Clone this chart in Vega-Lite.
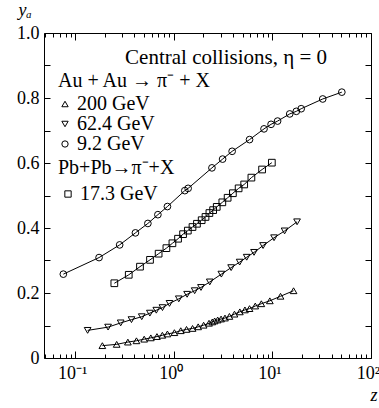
{
  "$schema": "https://vega.github.io/schema/vega-lite/v6.json",
  "width": 327,
  "height": 325,
  "autosize": {"type": "none"},
  "padding": {"left": 44, "top": 33, "right": 8, "bottom": 50},
  "background": "white",
  "title": {"text": "Central collisions, η = 0", "anchor": "end", "frame": "group", "dx": -44, "offset": -56, "dy": 28, "baseline": "alphabetic", "fontSize": 21, "font": "Liberation Serif", "fontWeight": "normal", "color": "black"},
  "data": {"values": [
    {"group": "Au", "series": "9.2 GeV", "z": 0.076, "y": 0.258},
    {"group": "Au", "series": "9.2 GeV", "z": 0.175, "y": 0.309},
    {"group": "Au", "series": "9.2 GeV", "z": 0.283, "y": 0.348},
    {"group": "Au", "series": "9.2 GeV", "z": 0.409, "y": 0.385},
    {"group": "Au", "series": "9.2 GeV", "z": 0.547, "y": 0.414},
    {"group": "Au", "series": "9.2 GeV", "z": 0.691, "y": 0.441},
    {"group": "Au", "series": "9.2 GeV", "z": 0.863, "y": 0.466},
    {"group": "Au", "series": "9.2 GeV", "z": 1.295, "y": 0.515},
    {"group": "Au", "series": "9.2 GeV", "z": 1.40, "y": 0.522},
    {"group": "Au", "series": "9.2 GeV", "z": 2.44, "y": 0.585},
    {"group": "Au", "series": "9.2 GeV", "z": 3.13, "y": 0.612},
    {"group": "Au", "series": "9.2 GeV", "z": 3.91, "y": 0.636},
    {"group": "Au", "series": "9.2 GeV", "z": 5.87, "y": 0.672},
    {"group": "Au", "series": "9.2 GeV", "z": 8.23, "y": 0.705},
    {"group": "Au", "series": "9.2 GeV", "z": 9.70, "y": 0.719},
    {"group": "Au", "series": "9.2 GeV", "z": 11.3, "y": 0.729},
    {"group": "Au", "series": "9.2 GeV", "z": 15.0, "y": 0.751},
    {"group": "Au", "series": "9.2 GeV", "z": 17.5, "y": 0.759},
    {"group": "Au", "series": "9.2 GeV", "z": 19.6, "y": 0.767},
    {"group": "Au", "series": "9.2 GeV", "z": 32.4, "y": 0.797},
    {"group": "Au", "series": "9.2 GeV", "z": 50.6, "y": 0.818},
    {"group": "Pb", "series": "17.3 GeV", "z": 0.250, "y": 0.230},
    {"group": "Pb", "series": "17.3 GeV", "z": 0.350, "y": 0.256},
    {"group": "Pb", "series": "17.3 GeV", "z": 0.455, "y": 0.281},
    {"group": "Pb", "series": "17.3 GeV", "z": 0.575, "y": 0.302},
    {"group": "Pb", "series": "17.3 GeV", "z": 0.703, "y": 0.321},
    {"group": "Pb", "series": "17.3 GeV", "z": 0.843, "y": 0.338},
    {"group": "Pb", "series": "17.3 GeV", "z": 0.970, "y": 0.353},
    {"group": "Pb", "series": "17.3 GeV", "z": 1.106, "y": 0.367},
    {"group": "Pb", "series": "17.3 GeV", "z": 1.244, "y": 0.381},
    {"group": "Pb", "series": "17.3 GeV", "z": 1.39, "y": 0.392},
    {"group": "Pb", "series": "17.3 GeV", "z": 1.55, "y": 0.403},
    {"group": "Pb", "series": "17.3 GeV", "z": 1.72, "y": 0.413},
    {"group": "Pb", "series": "17.3 GeV", "z": 1.92, "y": 0.424},
    {"group": "Pb", "series": "17.3 GeV", "z": 2.10, "y": 0.434},
    {"group": "Pb", "series": "17.3 GeV", "z": 2.30, "y": 0.446},
    {"group": "Pb", "series": "17.3 GeV", "z": 2.51, "y": 0.455},
    {"group": "Pb", "series": "17.3 GeV", "z": 2.73, "y": 0.465},
    {"group": "Pb", "series": "17.3 GeV", "z": 3.11, "y": 0.479},
    {"group": "Pb", "series": "17.3 GeV", "z": 3.52, "y": 0.493},
    {"group": "Pb", "series": "17.3 GeV", "z": 3.98, "y": 0.507},
    {"group": "Pb", "series": "17.3 GeV", "z": 4.55, "y": 0.522},
    {"group": "Pb", "series": "17.3 GeV", "z": 5.18, "y": 0.534},
    {"group": "Pb", "series": "17.3 GeV", "z": 6.13, "y": 0.555},
    {"group": "Pb", "series": "17.3 GeV", "z": 7.87, "y": 0.580},
    {"group": "Pb", "series": "17.3 GeV", "z": 9.88, "y": 0.601},
    {"group": "Au", "series": "62.4 GeV", "z": 0.134, "y": 0.085},
    {"group": "Au", "series": "62.4 GeV", "z": 0.216, "y": 0.095},
    {"group": "Au", "series": "62.4 GeV", "z": 0.290, "y": 0.108},
    {"group": "Au", "series": "62.4 GeV", "z": 0.373, "y": 0.118},
    {"group": "Au", "series": "62.4 GeV", "z": 0.474, "y": 0.127},
    {"group": "Au", "series": "62.4 GeV", "z": 0.573, "y": 0.138},
    {"group": "Au", "series": "62.4 GeV", "z": 0.666, "y": 0.147},
    {"group": "Au", "series": "62.4 GeV", "z": 0.769, "y": 0.155},
    {"group": "Au", "series": "62.4 GeV", "z": 0.906, "y": 0.168},
    {"group": "Au", "series": "62.4 GeV", "z": 1.125, "y": 0.182},
    {"group": "Au", "series": "62.4 GeV", "z": 1.367, "y": 0.196},
    {"group": "Au", "series": "62.4 GeV", "z": 1.63, "y": 0.207},
    {"group": "Au", "series": "62.4 GeV", "z": 1.89, "y": 0.217},
    {"group": "Au", "series": "62.4 GeV", "z": 2.32, "y": 0.234},
    {"group": "Au", "series": "62.4 GeV", "z": 3.04, "y": 0.258},
    {"group": "Au", "series": "62.4 GeV", "z": 3.82, "y": 0.278},
    {"group": "Au", "series": "62.4 GeV", "z": 4.66, "y": 0.295},
    {"group": "Au", "series": "62.4 GeV", "z": 5.49, "y": 0.310},
    {"group": "Au", "series": "62.4 GeV", "z": 6.52, "y": 0.325},
    {"group": "Au", "series": "62.4 GeV", "z": 8.05, "y": 0.346},
    {"group": "Au", "series": "62.4 GeV", "z": 10.4, "y": 0.370},
    {"group": "Au", "series": "62.4 GeV", "z": 13.3, "y": 0.391},
    {"group": "Au", "series": "62.4 GeV", "z": 17.8, "y": 0.419},
    {"group": "Au", "series": "200 GeV", "z": 0.189, "y": 0.038},
    {"group": "Au", "series": "200 GeV", "z": 0.264, "y": 0.042},
    {"group": "Au", "series": "200 GeV", "z": 0.343, "y": 0.049},
    {"group": "Au", "series": "200 GeV", "z": 0.419, "y": 0.053},
    {"group": "Au", "series": "200 GeV", "z": 0.502, "y": 0.058},
    {"group": "Au", "series": "200 GeV", "z": 0.586, "y": 0.062},
    {"group": "Au", "series": "200 GeV", "z": 0.676, "y": 0.066},
    {"group": "Au", "series": "200 GeV", "z": 0.767, "y": 0.070},
    {"group": "Au", "series": "200 GeV", "z": 0.863, "y": 0.074},
    {"group": "Au", "series": "200 GeV", "z": 1.016, "y": 0.078},
    {"group": "Au", "series": "200 GeV", "z": 1.179, "y": 0.084},
    {"group": "Au", "series": "200 GeV", "z": 1.348, "y": 0.088},
    {"group": "Au", "series": "200 GeV", "z": 1.552, "y": 0.091},
    {"group": "Au", "series": "200 GeV", "z": 1.77, "y": 0.096},
    {"group": "Au", "series": "200 GeV", "z": 2.01, "y": 0.101},
    {"group": "Au", "series": "200 GeV", "z": 2.28, "y": 0.107},
    {"group": "Au", "series": "200 GeV", "z": 2.46, "y": 0.111},
    {"group": "Au", "series": "200 GeV", "z": 2.60, "y": 0.114},
    {"group": "Au", "series": "200 GeV", "z": 2.79, "y": 0.117},
    {"group": "Au", "series": "200 GeV", "z": 3.02, "y": 0.120},
    {"group": "Au", "series": "200 GeV", "z": 3.31, "y": 0.123},
    {"group": "Au", "series": "200 GeV", "z": 3.67, "y": 0.128},
    {"group": "Au", "series": "200 GeV", "z": 4.13, "y": 0.135},
    {"group": "Au", "series": "200 GeV", "z": 4.68, "y": 0.142},
    {"group": "Au", "series": "200 GeV", "z": 5.27, "y": 0.148},
    {"group": "Au", "series": "200 GeV", "z": 5.87, "y": 0.152},
    {"group": "Au", "series": "200 GeV", "z": 6.71, "y": 0.160},
    {"group": "Au", "series": "200 GeV", "z": 7.73, "y": 0.167},
    {"group": "Au", "series": "200 GeV", "z": 9.43, "y": 0.176},
    {"group": "Au", "series": "200 GeV", "z": 12.1, "y": 0.190},
    {"group": "Au", "series": "200 GeV", "z": 16.4, "y": 0.207}
  ]},
  "layer": [
    {
      "transform": [{"filter": "datum.group == 'Au'"}],
      "mark": {"type": "line", "color": "black", "strokeWidth": 1},
      "encoding": {
        "x": {"field": "z", "type": "quantitative", "scale": {"type": "log", "domain": [0.0484, 100], "nice": false},
          "axis": {"orient": "bottom", "values": [0.1, 1, 10, 100], "tickSize": -7, "labelPadding": 27, "labelBaseline": "alphabetic", "labelOffset": -3,
            "labelExpr": "datum.value < 0.5 ? '10⁻¹' : datum.value < 5 ? '10⁰' : datum.value < 50 ? '10¹' : '10²'",
            "title": "z", "titleX": 333, "titleY": 42, "titleAlign": "right", "titleBaseline": "alphabetic", "titleFontStyle": "italic", "titleFontSize": 18, "titleFontWeight": "normal"}},
        "y": {"field": "y", "type": "quantitative", "scale": {"domain": [0, 1], "nice": false, "zero": false},
          "axis": {"orient": "left", "values": [0, 0.1, 0.2, 0.3, 0.4, 0.5, 0.6, 0.7, 0.8, 0.9, 1.0], "tickSize": -6, "labelPadding": 11,
            "labelExpr": "datum.value < 0.05 ? '0' : (round(datum.value * 10) % 2 == 0 ? format(datum.value, '.1f') : '')",
            "title": "yₐ", "titleAngle": 0, "titleAlign": "left", "titleBaseline": "alphabetic", "titleX": -26, "titleY": -18, "titleFontStyle": "italic", "titleFontSize": 18, "titleFontWeight": "normal"}},
        "detail": {"field": "series"}
      }
    },
    {
      "transform": [{"filter": "datum.group == 'Pb'"}],
      "mark": {"type": "line", "color": "black", "strokeWidth": 1},
      "encoding": {
        "x": {"field": "z", "type": "quantitative", "scale": {"type": "log", "domain": [0.0484, 100], "nice": false},
          "axis": {"orient": "bottom", "values": [0.05, 0.06, 0.07, 0.08, 0.09, 0.2, 0.3, 0.4, 0.5, 0.6, 0.7, 0.8, 0.9, 2, 3, 4, 5, 6, 7, 8, 9, 20, 30, 40, 50, 60, 70, 80, 90], "tickSize": -4, "labels": false, "title": null}},
        "y": {"field": "y", "type": "quantitative", "scale": {"domain": [0, 1], "nice": false, "zero": false},
          "axis": {"orient": "right", "values": [0, 0.1, 0.2, 0.3, 0.4, 0.5, 0.6, 0.7, 0.8, 0.9, 1.0], "tickSize": -6, "labels": false, "title": null}},
        "detail": {"field": "series"}
      }
    },
    {
      "transform": [{"filter": "datum.group == 'Au'"}],
      "mark": {"type": "point", "color": "black", "filled": false, "strokeWidth": 1, "size": 45, "opacity": 1},
      "encoding": {
        "x": {"field": "z", "type": "quantitative", "scale": {"type": "log", "domain": [0.0484, 100], "nice": false},
          "axis": {"orient": "top", "values": [0.1, 1, 10, 100], "tickSize": -7, "labels": false, "title": null}},
        "y": {"field": "y", "type": "quantitative", "scale": {"domain": [0, 1], "nice": false, "zero": false}, "axis": null},
        "shape": {"field": "series", "type": "nominal",
          "scale": {"domain": ["200 GeV", "62.4 GeV", "9.2 GeV"], "range": ["triangle-up", "triangle-down", "circle"]},
          "legend": {"title": "Au + Au → π⁻ + X", "orient": "none", "legendX": 14, "legendY": 38, "symbolOffset": -3, "labelOffset": 2, "rowPadding": 0, "titlePadding": 3, "symbolSize": 40}}
      }
    },
    {
      "transform": [{"filter": "datum.group == 'Pb'"}],
      "mark": {"type": "point", "color": "black", "filled": false, "strokeWidth": 1, "size": 45, "opacity": 1},
      "encoding": {
        "x": {"field": "z", "type": "quantitative", "scale": {"type": "log", "domain": [0.0484, 100], "nice": false},
          "axis": {"orient": "top", "values": [0.05, 0.06, 0.07, 0.08, 0.09, 0.2, 0.3, 0.4, 0.5, 0.6, 0.7, 0.8, 0.9, 2, 3, 4, 5, 6, 7, 8, 9, 20, 30, 40, 50, 60, 70, 80, 90], "tickSize": -4, "labels": false, "title": null}},
        "y": {"field": "y", "type": "quantitative", "scale": {"domain": [0, 1], "nice": false, "zero": false}, "axis": null},
        "shape": {"field": "series", "type": "nominal",
          "scale": {"domain": ["17.3 GeV"], "range": ["square"]},
          "legend": {"title": "Pb+Pb→π⁻+X", "orient": "none", "legendX": 14, "legendY": 125, "symbolOffset": 0, "labelOffset": 2, "titlePadding": 6, "symbolSize": 40}}
      }
    }
  ],
  "resolve": {"axis": {"x": "independent", "y": "independent"}, "scale": {"shape": "independent"}, "legend": {"shape": "independent"}},
  "config": {
    "view": {"stroke": "black", "strokeWidth": 1},
    "font": "Liberation Serif",
    "axis": {"domain": false, "grid": false, "tickColor": "black", "tickWidth": 1, "labelColor": "black", "labelFont": "Liberation Serif", "labelFontSize": 18, "labelFlush": false, "labelOverlap": false, "titleFont": "Liberation Serif", "titleColor": "black"},
    "legend": {"padding": 0, "titleFont": "Liberation Serif", "titleFontSize": 20, "titleFontWeight": "normal", "titleColor": "black", "labelFont": "Liberation Serif", "labelFontSize": 20, "labelColor": "black", "symbolStrokeColor": "black", "symbolFillColor": "transparent", "symbolStrokeWidth": 1, "titleLimit": 300, "labelLimit": 300}
  }
}
